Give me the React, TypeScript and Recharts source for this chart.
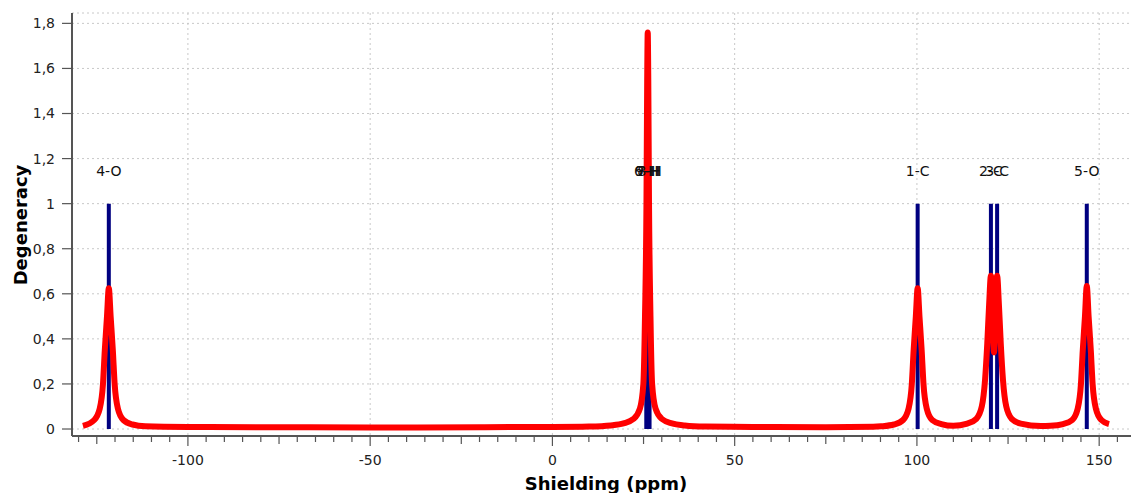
import React from 'react'
import { ComposedChart, Line, Scatter, XAxis, YAxis, CartesianGrid } from 'recharts'

// atoms: sticks (position in ppm, degeneracy) and their labels
const atomNames = ['4-O', '6-H', '9-H', '7-H', '8-H', '1-C', '2-C', '3-C', '5-O']
const atomShifts = [-121.7, 25.75, 26.05, 26.35, 26.65, 100.2, 120.3, 122.0, 146.6]
const atomDegeneracy = [1, 1, 1, 1, 1, 1, 1, 1, 1]

// broadened spectrum
const spectrumShift = [
  -128.8, -125.7, -124.2, -123.3, -122.8, -122.2, -121.7, -121.2, -120.6, -120.1, -119.2, -117.7,
  -115.2, -111.7, -100, -80, -50, -20, 0, 10, 16, 19.5, 22.3, 24.0, 24.95, 25.4, 25.8, 26.0, 26.15,
  26.3, 26.5, 26.9, 27.35, 28.3, 30.0, 32.8, 36.3, 42, 55, 75, 88, 90.2, 93.7, 96.2, 97.7, 98.6,
  99.1, 99.7, 100.2, 100.7, 101.3, 101.8, 102.7, 104.2, 106.7, 110, 113.8, 116.3, 117.8, 118.7,
  119.3, 119.8, 120.3, 121.15, 122.0, 122.5, 123.0, 123.6, 124.5, 126.0, 128.5, 134, 136.6, 140.1,
  142.6, 144.1, 145.0, 145.5, 146.1, 146.6, 147.1, 147.7, 148.2, 149.1, 150.6, 152.7,
]
const spectrumIntensity = [
  0.014, 0.04, 0.09, 0.2, 0.35, 0.5, 0.625, 0.5, 0.35, 0.2, 0.09, 0.04,
  0.02, 0.012, 0.009, 0.008, 0.007, 0.008, 0.009, 0.011, 0.016, 0.025, 0.045, 0.09, 0.2, 0.5, 1.0, 1.55, 1.76,
  1.55, 1.0, 0.5, 0.2, 0.09, 0.045, 0.025, 0.016, 0.011, 0.009, 0.008, 0.01, 0.012, 0.02, 0.04, 0.09, 0.2,
  0.35, 0.5, 0.625, 0.5, 0.35, 0.2, 0.09, 0.04, 0.022, 0.014, 0.024, 0.045, 0.1, 0.22,
  0.38, 0.55, 0.68, 0.34, 0.68, 0.55, 0.38, 0.22, 0.1, 0.045, 0.024, 0.013, 0.014, 0.022,
  0.04, 0.09, 0.2, 0.35, 0.5, 0.635, 0.5, 0.35, 0.2, 0.09, 0.04, 0.022,
]

const xTicks = [
  -130, -125, -120, -115, -110, -105, -100, -95, -90, -85, -80, -75, -70, -65, -60, -55, -50, -45,
  -40, -35, -30, -25, -20, -15, -10, -5, 0, 5, 10, 15, 20, 25, 30, 35, 40, 45, 50, 55, 60, 65, 70,
  75, 80, 85, 90, 95, 100, 105, 110, 115, 120, 125, 130, 135, 140, 145, 150, 155, 160,
]
const xGridTicks = [-100, -50, 0, 50, 100, 150]
const yTicks = [0, 0.2, 0.4, 0.6, 0.8, 1, 1.2, 1.4, 1.6, 1.8]

const X_DOMAIN = [-131.8, 161.2]
const Y_DOMAIN = [-0.031, 1.846]
const AXIS = '#555'
const FONT = '"DejaVu Sans", Verdana, sans-serif'

const spectrum = spectrumShift.map((x, i) => ({ x, y: spectrumIntensity[i] }))
const sticks = atomShifts.flatMap((x, i) => [
  { x, y: 0 },
  { x, y: atomDegeneracy[i] },
  { x, y: null },
])
const labels = atomShifts.map((x, i) => ({ x, y: atomDegeneracy[i], name: atomNames[i] }))

function ShiftTick({ x, y, payload }: any) {
  const v = payload.value
  const major = v % 50 === 0
  const mid = v % 25 === 0
  const len = major ? 10 : mid ? 8 : 6
  return (
    <g>
      <line x1={x} x2={x} y1={y} y2={y + len} stroke={AXIS} strokeWidth={1.2} />
      {major && (
        <text x={x} y={y + 29} textAnchor="middle" fontSize={14} fill="#222" fontFamily={FONT}>
          {v}
        </text>
      )}
    </g>
  )
}

const fmtY = (v: number) => (v === 0 ? '0' : String(Math.round(v * 10) / 10).replace('.', ','))

export default function App() {
  return (
    <div style={{ position: 'absolute', left: 0, top: 0, width: 1131, height: 493, overflow: 'hidden', background: '#fff' }}>
      <ComposedChart
        width={1150}
        height={493}
        margin={{ top: 13, right: 10, bottom: 0, left: 0 }}
        style={{ fontFamily: FONT }}
      >
        <CartesianGrid stroke="#c8c8c8" strokeDasharray="2 3" verticalValues={xGridTicks} />
        <XAxis
          xAxisId="top"
          orientation="top"
          type="number"
          dataKey="x"
          domain={X_DOMAIN}
          allowDataOverflow
          height={0}
          tick={false}
          tickLine={false}
          axisLine={{ stroke: AXIS, strokeWidth: 1.5 }}
        />
        <XAxis
          type="number"
          dataKey="x"
          domain={X_DOMAIN}
          allowDataOverflow
          ticks={xTicks}
          interval={0}
          height={57}
          tickSize={0}
          tickMargin={0}
          tickLine={false}
          tick={<ShiftTick />}
          axisLine={{ stroke: AXIS, strokeWidth: 2 }}
          label={{
            content: () => (
              <text x={606} y={490} textAnchor="middle" fontSize={18} fontWeight="bold" fill="#000" fontFamily={FONT}>
                Shielding (ppm)
              </text>
            ),
          }}
        />
        <YAxis
          type="number"
          domain={Y_DOMAIN}
          allowDataOverflow
          ticks={yTicks}
          width={72}
          tickSize={10}
          tickMargin={7}
          tickFormatter={fmtY}
          tick={{ fontSize: 14, fill: '#222' }}
          tickLine={{ stroke: AXIS, strokeWidth: 1.2 }}
          axisLine={{ stroke: AXIS, strokeWidth: 2 }}
          label={{
            content: () => (
              <text
                transform="translate(27,225) rotate(-90)"
                textAnchor="middle"
                fontSize={18}
                fontWeight="bold"
                fill="#000"
                fontFamily={FONT}
              >
                Degeneracy
              </text>
            ),
          }}
        />
        <Line
          data={sticks}
          dataKey="y"
          stroke="#000080"
          strokeWidth={4}
          dot={false}
          activeDot={false}
          connectNulls={false}
          type="linear"
          isAnimationActive={false}
        />
        <Line
          data={spectrum}
          dataKey="y"
          stroke="#ff0000"
          strokeWidth={6}
          strokeLinejoin="round"
          dot={false}
          activeDot={false}
          type="monotone"
          isAnimationActive={false}
        />
        <Scatter
          data={labels}
          dataKey="y"
          isAnimationActive={false}
          shape={(p: any) => (
            <text x={p.cx} y={p.cy - 28} textAnchor="middle" fontSize={14} fill="#111" fontFamily={FONT}>
              {p.payload.name}
            </text>
          )}
        />
      </ComposedChart>
    </div>
  )
}
